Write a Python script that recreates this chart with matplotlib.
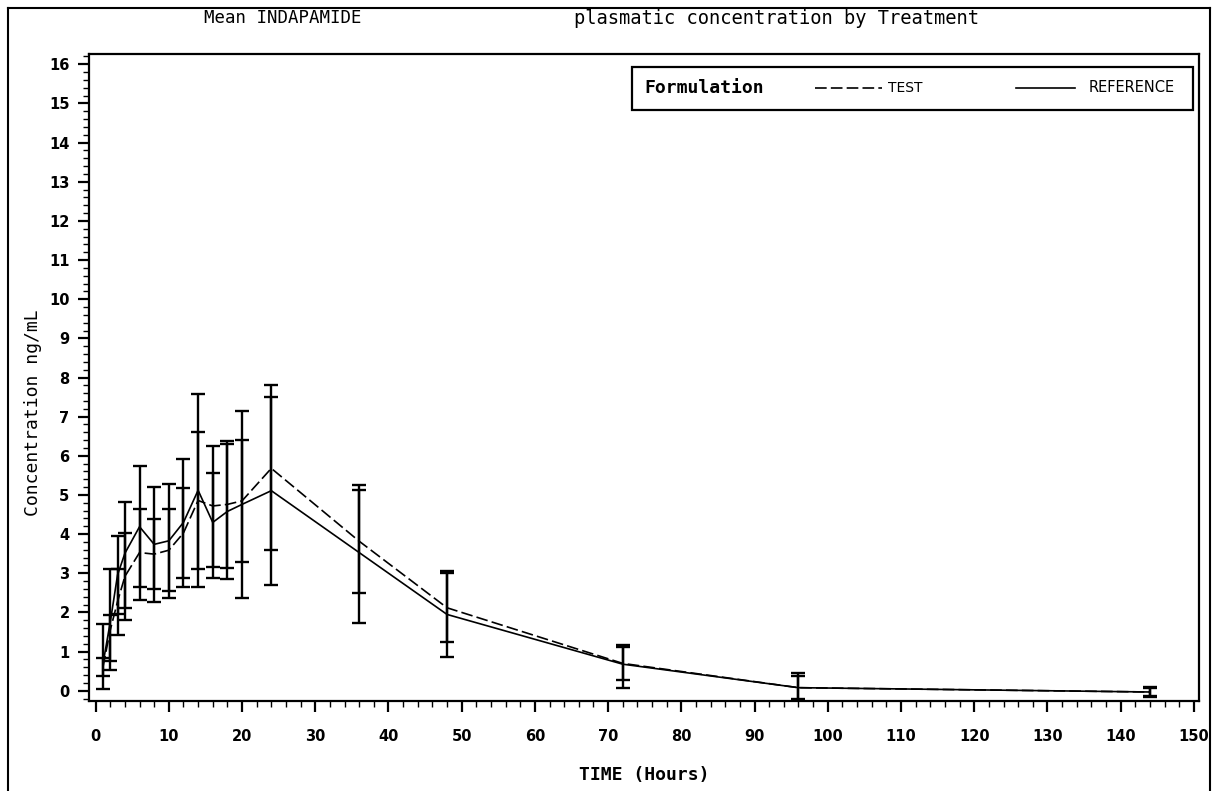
import numpy as np
import matplotlib.pyplot as plt
from matplotlib.lines import Line2D
from matplotlib.patches import Rectangle
from matplotlib.ticker import MultipleLocator

# sampling times (hours)
times = [1, 2, 3, 4, 6, 8, 10, 12, 14, 16, 18, 20, 24, 36, 48, 72, 96, 144]

# TEST formulation: mean and error bar ends (ng/mL)
test_mean = [0.60, 1.55, 2.28, 2.92, 3.53, 3.49, 3.59, 4.03, 4.86, 4.72, 4.76, 4.85, 5.68, 3.82, 2.12, 0.70, 0.08, -0.03]
test_lo   = [0.38, 0.75, 1.43, 1.81, 2.31, 2.60, 2.54, 2.87, 3.11, 3.15, 3.13, 3.29, 3.59, 2.50, 1.24, 0.28, -0.20, -0.12]
test_hi   = [0.84, 1.94, 3.10, 4.03, 4.64, 4.38, 4.64, 5.19, 6.60, 6.24, 6.38, 6.40, 7.81, 5.13, 3.05, 1.12, 0.38, 0.06]

# REFERENCE formulation
ref_mean = [0.68, 1.75, 2.96, 3.51, 4.19, 3.74, 3.83, 4.30, 5.12, 4.30, 4.58, 4.76, 5.11, 3.53, 1.95, 0.68, 0.08, -0.03]
ref_lo   = [0.05, 0.54, 1.95, 2.11, 2.65, 2.27, 2.38, 2.66, 2.64, 2.89, 2.85, 2.37, 2.71, 1.74, 0.86, 0.08, -0.30, -0.15]
ref_hi   = [1.71, 3.10, 3.95, 4.81, 5.74, 5.21, 5.28, 5.93, 7.59, 5.57, 6.31, 7.15, 7.51, 5.26, 3.02, 1.18, 0.46, 0.09]

x_ticks = list(range(0, 151, 10))
y_ticks = list(range(0, 17))

W, H = 1217, 791
fig = plt.figure(figsize=(W / 100, H / 100), dpi=100)
fig.patch.set_facecolor("white")
ax = fig.add_axes([89 / W, 1 - 701 / H, 1110 / W, 647 / H])

t = np.array(times)
for m, lo, hi, ls in [(test_mean, test_lo, test_hi, (0, (7, 2.5))),
                      (ref_mean, ref_lo, ref_hi, "-")]:
    m, lo, hi = np.array(m), np.array(lo), np.array(hi)
    ax.errorbar(t, m, yerr=[m - lo, hi - m], fmt="none", ecolor="black",
                elinewidth=1.7, capsize=4.7, capthick=1.7, zorder=2)
    ax.plot(t, m, color="black", lw=1.2, ls=ls, zorder=3)

ax.set_xlim(-0.9, 150.7)
ax.set_ylim(-0.26, 16.26)
ax.set_xticks(x_ticks)
ax.set_yticks(y_ticks)
ax.xaxis.set_minor_locator(MultipleLocator(2))
ax.yaxis.set_minor_locator(MultipleLocator(0.2))
ax.tick_params(which="major", direction="out", length=8, width=1.6, colors="black")
ax.tick_params(which="minor", direction="out", length=4, width=1.0)
ax.tick_params(axis="x", pad=12)
ax.tick_params(axis="y", pad=6)
for lab in ax.get_xticklabels() + ax.get_yticklabels():
    lab.set_fontweight("bold")
    lab.set_fontsize(10.5)
for s in ax.spines.values():
    s.set_linewidth(1.6)

ax.set_xlabel("TIME (Hours)", fontsize=13, family="DejaVu Sans Mono", fontweight="bold")
ax.xaxis.set_label_coords(0.5, -0.1)
ax.set_ylabel("Concentration ng/mL", fontsize=13, family="DejaVu Sans Mono")
ax.yaxis.set_label_coords(-0.042, 0.445)

# titles
fig.text(283 / W, 1 - 18 / H, "Mean INDAPAMIDE", ha="center", va="center",
         fontsize=12.5, family="DejaVu Sans Mono")
fig.text(776 / W, 1 - 18 / H, "plasmatic concentration by Treatment", ha="center", va="center",
         fontsize=13.5, family="DejaVu Sans Mono")

# legend box (axes fraction)
ax.add_patch(Rectangle((0.489, 0.914), 0.5056, 0.0665, transform=ax.transAxes,
                       fill=False, lw=1.6, ec="black", zorder=5))
ax.text(0.50, 0.948, "Formulation", transform=ax.transAxes, va="center", ha="left",
        fontsize=13, fontweight="bold", family="DejaVu Sans Mono")
ax.add_line(Line2D([0.654, 0.714], [0.948, 0.948], transform=ax.transAxes,
                   color="black", lw=1.2, ls=(0, (7, 2.5))))
ax.text(0.720, 0.948, "TEST", transform=ax.transAxes, va="center", ha="left", fontsize=10)
ax.add_line(Line2D([0.835, 0.888], [0.948, 0.948], transform=ax.transAxes,
                   color="black", lw=1.2))
ax.text(0.901, 0.948, "REFERENCE", transform=ax.transAxes, va="center", ha="left", fontsize=10.5)

# outer page border
for xs, ys in [([8 / W, 8 / W], [0, 1 - 8 / H]),
               ([8 / W, 1210 / W], [1 - 8 / H, 1 - 8 / H]),
               ([1210 / W, 1210 / W], [1 - 8 / H, 0])]:
    fig.add_artist(Line2D(xs, ys, transform=fig.transFigure, color="black", lw=1.5))

fig.savefig("out.png", dpi=100)
